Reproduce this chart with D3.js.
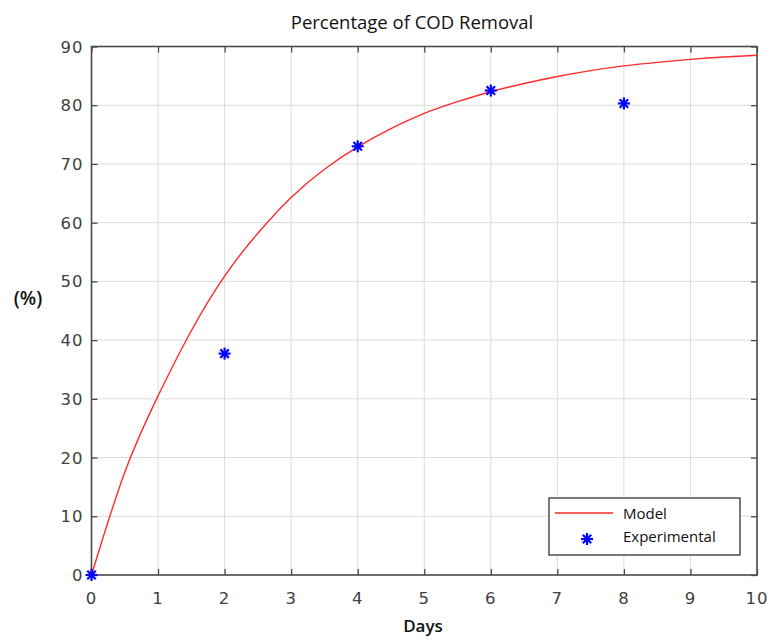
<!DOCTYPE html>
<html lang="en">
<head>
    <meta charset="UTF-8">
    <title>Percentage of COD Removal</title>
    <script src="https://d3js.org/d3.v7.min.js"></script>
    <style>
        body { margin: 0; background: #fff; }
        .tick-label { font-family: "DejaVu Sans", sans-serif; font-size: 16.5px; fill: #404040; letter-spacing: 1px; }
        .title { font-family: "Open Sans", sans-serif; font-size: 18.5px; fill: #111; }
        .axis-name { font-family: "Open Sans", sans-serif; font-size: 17px; font-weight: 600; fill: #111; }
        .legend-text { font-family: "Open Sans", sans-serif; font-size: 15px; fill: #111; }
    </style>
</head>
<body>
<svg id="chart" width="771" height="641"></svg>
<script>
    // model curve
    const modelDays = [0, 0.5, 1, 1.5, 2, 2.5, 3, 3.5, 4, 4.5, 5, 5.5, 6, 6.5, 7, 7.5, 8, 8.5, 9, 9.5, 10];
    const modelPct  = [0, 17.5, 30.5, 41.6, 50.9, 58.2, 64.3, 69.1, 72.9, 76.0, 78.6, 80.6, 82.3, 83.7, 84.9, 85.9, 86.7, 87.3, 87.8, 88.2, 88.5];
    // experimental points
    const expDays = [0, 2, 4, 6, 8];
    const expPct  = [0, 37.7, 73.0, 82.5, 80.3];
    const xTicks = [0, 1, 2, 3, 4, 5, 6, 7, 8, 9, 10];
    const yTicks = [0, 10, 20, 30, 40, 50, 60, 70, 80, 90];

    const svg = d3.select("#chart");
    const mLeft = 91.5, mRight = 757, mTop = 46.5, mBottom = 575;

    const x = d3.scaleLinear().domain([0, 10]).range([mLeft, mRight]);
    const y = d3.scaleLinear().domain([0, 90]).range([mBottom, mTop]);

    // grid
    svg.append("g").selectAll("line").data(xTicks.slice(1, -1)).enter().append("line")
        .attr("x1", d => x(d)).attr("x2", d => x(d))
        .attr("y1", mTop).attr("y2", mBottom)
        .attr("stroke", "#dcdcdc").attr("stroke-width", 1);
    svg.append("g").selectAll("line").data(yTicks.slice(1, -1)).enter().append("line")
        .attr("y1", d => y(d)).attr("y2", d => y(d))
        .attr("x1", mLeft).attr("x2", mRight)
        .attr("stroke", "#dcdcdc").attr("stroke-width", 1);

    // axes (ticks inside, on all four sides)
    const tickLen = 6;
    svg.append("g").attr("transform", `translate(0,${mBottom})`)
        .call(d3.axisTop(x).tickValues(xTicks).tickSize(tickLen).tickFormat(""))
        .call(g => g.select(".domain").remove());
    svg.append("g").attr("transform", `translate(0,${mTop})`)
        .call(d3.axisBottom(x).tickValues(xTicks).tickSize(tickLen).tickFormat(""))
        .call(g => g.select(".domain").remove());
    svg.append("g").attr("transform", `translate(${mLeft},0)`)
        .call(d3.axisRight(y).tickValues(yTicks).tickSize(tickLen).tickFormat(""))
        .call(g => g.select(".domain").remove());
    svg.append("g").attr("transform", `translate(${mRight},0)`)
        .call(d3.axisLeft(y).tickValues(yTicks).tickSize(tickLen).tickFormat(""))
        .call(g => g.select(".domain").remove());
    svg.selectAll(".tick line").attr("stroke", "#4a4a4a").attr("stroke-width", 1.3);

    svg.append("rect")
        .attr("x", mLeft).attr("y", mTop)
        .attr("width", mRight - mLeft).attr("height", mBottom - mTop)
        .attr("fill", "none").attr("stroke", "#4a4a4a").attr("stroke-width", 1.6);

    // tick labels
    svg.append("g").selectAll("text").data(xTicks).enter().append("text")
        .attr("class", "tick-label")
        .attr("x", d => x(d)).attr("y", mBottom + 29)
        .attr("text-anchor", "middle")
        .text(d => d);
    svg.append("g").selectAll("text").data(yTicks).enter().append("text")
        .attr("class", "tick-label")
        .attr("x", mLeft - 8).attr("y", d => y(d) + 6)
        .attr("text-anchor", "end")
        .text(d => d);

    // model line
    const line = d3.line()
        .x((d, i) => x(modelDays[i]))
        .y(d => y(d))
        .curve(d3.curveNatural);
    svg.append("path")
        .datum(modelPct)
        .attr("d", line)
        .attr("fill", "none")
        .attr("stroke", "#ff2a2a")
        .attr("stroke-width", 1.4);

    // asterisk marker
    function star(g, cx, cy, r) {
        const s = g.append("g").attr("transform", `translate(${cx},${cy})`);
        [0, 45, 90, 135].forEach(a => {
            const rad = a * Math.PI / 180;
            s.append("line")
                .attr("x1", -r * Math.cos(rad)).attr("y1", -r * Math.sin(rad))
                .attr("x2", r * Math.cos(rad)).attr("y2", r * Math.sin(rad))
                .attr("stroke", "#0000ff").attr("stroke-width", 2.2);
        });
    }
    expDays.forEach((d, i) => star(svg, x(d), y(expPct[i]), 6));

    // title and axis names
    svg.append("text").attr("class", "title")
        .attr("x", 412).attr("y", 29).attr("text-anchor", "middle")
        .text("Percentage of COD Removal");
    svg.append("text").attr("class", "axis-name")
        .attr("x", 423).attr("y", 632).attr("text-anchor", "middle")
        .text("Days");
    svg.append("text").attr("class", "axis-name")
        .attr("x", 28).attr("y", 305).attr("text-anchor", "middle")
        .style("font-size", "19px")
        .text("(%)");

    // legend
    const lg = svg.append("g");
    lg.append("rect")
        .attr("x", 549).attr("y", 498).attr("width", 191).attr("height", 57)
        .attr("fill", "#fff").attr("stroke", "#333").attr("stroke-width", 1.3);
    lg.append("line")
        .attr("x1", 555).attr("x2", 613).attr("y1", 513).attr("y2", 513)
        .attr("stroke", "#ff2a2a").attr("stroke-width", 1.4);
    star(lg, 587, 539, 6);
    lg.append("text").attr("class", "legend-text")
        .attr("x", 623).attr("y", 519).text("Model");
    lg.append("text").attr("class", "legend-text")
        .attr("x", 623).attr("y", 542).text("Experimental");
</script>
</body>
</html>
